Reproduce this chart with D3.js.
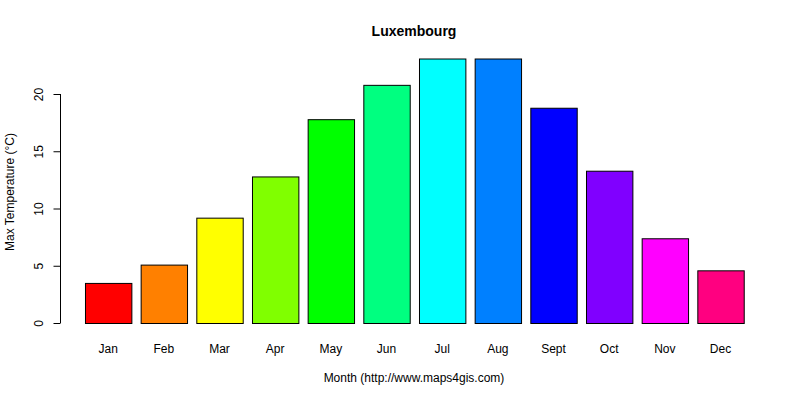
<!DOCTYPE html>
<html><head><meta charset="utf-8">
<script src="https://cdn.jsdelivr.net/npm/d3@7"></script>
<style>
body{margin:0;background:#fff}
text{font-family:"Liberation Sans",Arial,sans-serif;font-size:12px;fill:#000}
</style></head><body>
<div id="chart"></div>
<script>
const months = ["Jan","Feb","Mar","Apr","May","Jun","Jul","Aug","Sept","Oct","Nov","Dec"];
const maxTemp = [3.5,5.1,9.2,12.8,17.8,20.8,23.1,23.1,18.8,13.3,7.4,4.6];
const colours = ["#FF0000","#FF8000","#FFFF00","#80FF00","#00FF00","#00FF80","#00FFFF","#0080FF","#0000FF","#8000FF","#FF00FF","#FF0080"];
const yTicks = [0,5,10,15,20];

const width = 800, height = 400;
const svg = d3.select("#chart").append("svg").attr("width", width).attr("height", height);

// bar units as in R barplot: space 0.2, width 1
const x = d3.scaleLinear().domain([0, 14.6]).range([75.7, 753]);
const y = d3.scaleLinear().domain([0, 20]).range([323, 94]);

svg.selectAll("rect.bar").data(maxTemp).enter().append("rect")
  .attr("class","bar")
  .attr("x",(d,i)=>x(0.2+i*1.2)+0.5)
  .attr("width",x(1)-x(0))
  .attr("y",d=>y(d)+0.5)
  .attr("height",d=>y(0)-y(d))
  .attr("fill",(d,i)=>colours[i])
  .attr("stroke","#000");

svg.selectAll("text.month").data(months).enter().append("text")
  .attr("x",(d,i)=>x(0.7+i*1.2))
  .attr("y",353)
  .attr("text-anchor","middle")
  .text(d=>d);

const yAxis = d3.axisLeft(y).tickValues(yTicks).tickSize(7).tickPadding(6);
const g = svg.append("g").attr("transform","translate(60.5,0)").call(yAxis);
g.select(".domain").attr("d",`M0,${y(0)}V${y(20)}`);
g.selectAll(".tick text").attr("transform","rotate(-90,-21,0)")
  .attr("x",-21).attr("dy","0.32em").attr("text-anchor","middle")
  .style("font-family","Liberation Sans, Arial, sans-serif").style("font-size","12px");

svg.append("text").attr("x",414).attr("y",36).attr("text-anchor","middle")
  .style("font-weight","bold").style("font-size","14px").text("Luxembourg");
svg.append("text").attr("x",414).attr("y",382).attr("text-anchor","middle")
  .text("Month (http://www.maps4gis.com)");
svg.append("text").attr("transform","translate(14,192) rotate(-90)").attr("text-anchor","middle")
  .text("Max Temperature (°C)");
</script></body></html>
